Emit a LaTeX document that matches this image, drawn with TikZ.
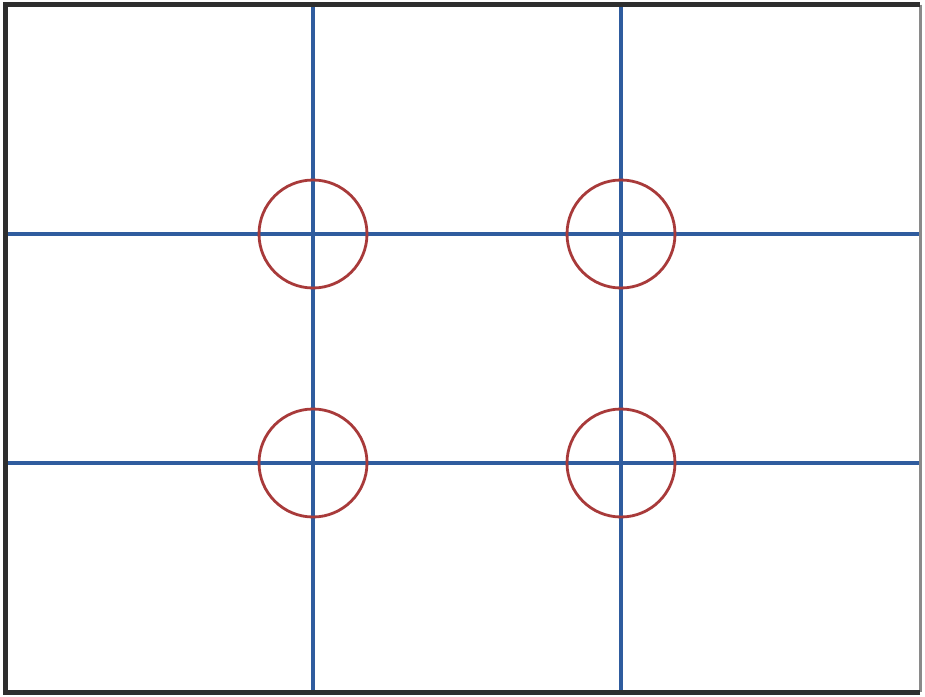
\documentclass[tikz,border=0pt]{standalone}
\usetikzlibrary{calc}
\definecolor{gridblue}{HTML}{2F5C9E}
\definecolor{ringred}{HTML}{A83A3A}
\definecolor{framedark}{HTML}{2E2E2E}
\definecolor{framegray}{HTML}{8A8A8A}
\tikzset{
  gridline/.style={draw=gridblue, line width=3.2pt},
  ring/.style={circle, draw=ringred, line width=2.8pt, minimum size=108pt, inner sep=0pt},
  frameedge/.style={draw=framedark, line width=5pt},
}
\begin{document}
\begin{tikzpicture}[x=1pt,y=-1pt]
\useasboundingbox (0,0) rectangle (925,696);
\fill[white] (0,0) rectangle (925,696);
% frame corners
\coordinate (TL) at (5.5,4.5);
\coordinate (TR) at (920,4.5);
\coordinate (BL) at (5.5,692);
\coordinate (BR) at (920,692);
% grid end points
\coordinate (v1t) at (313,4.5);
\coordinate (v1b) at (313,692);
\coordinate (v2t) at (621,4.5);
\coordinate (v2b) at (621,692);
\coordinate (h1l) at (5.5,234);
\coordinate (h1r) at (920,234);
\coordinate (h2l) at (5.5,463);
\coordinate (h2r) at (920,463);
% grid lines
\draw[gridline] (v1t) -- (v1b);
\draw[gridline] (v2t) -- (v2b);
\draw[gridline] (h1l) -- (h1r);
\draw[gridline] (h2l) -- (h2r);
% rings at intersections
\node[ring] (c11) at (313,234) {};
\node[ring] (c12) at (621,234) {};
\node[ring] (c21) at (313,463) {};
\node[ring] (c22) at (621,463) {};
% frame
\draw[draw=framegray, line width=3pt] (TR) -- (BR);
\draw[frameedge] (BR) -- (BL) -- (TL) -- (TR);
\end{tikzpicture}
\end{document}
